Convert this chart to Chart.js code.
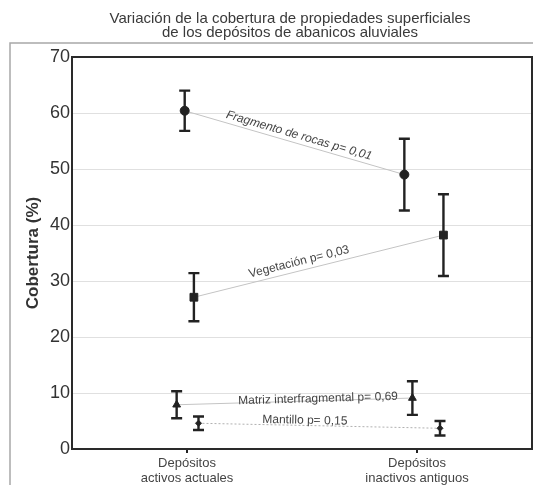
<!DOCTYPE html>
<html>
<head>
<meta charset="utf-8">
<script src="https://cdn.jsdelivr.net/npm/chart.js@4.4.0/dist/chart.umd.min.js"></script>
<style>
  html, body { margin: 0; padding: 0; background: #fff; }
  #wrap { width: 533px; height: 485px; position: relative; }
</style>
</head>
<body>
<div id="wrap"><canvas id="chart"></canvas></div>
<script>
const titleLines = ["Variación de la cobertura de propiedades superficiales", "de los depósitos de abanicos aluviales"];
const categories = [["Depósitos", "activos actuales"], ["Depósitos", "inactivos antiguos"]];
const seriesNames = ["Fragmento de rocas p= 0,01", "Vegetación p= 0,03", "Matriz interfragmental p= 0,69", "Mantillo p= 0,15"];
const fragmento = [60.4, 49.0];
const fragmentoErr = [3.6, 6.4];
const vegetacion = [27.1, 38.2];
const vegetacionErr = [4.3, 7.3];
const matriz = [7.9, 9.1];
const matrizErr = [2.4, 3.0];
const mantillo = [4.6, 3.7];
const mantilloErr = [1.2, 1.3];
const yTicks = [0, 10, 20, 30, 40, 50, 60, 70];

// where the categories sit on the x axis, and how far each series is nudged sideways
const catX = [1, 3];
const nudges = [[-0.02, -0.11], [0.06, 0.23], [-0.09, -0.04], [0.1, 0.2]];
const FONT = "'Liberation Sans', Arial, sans-serif";

function points(vals, errs, nudge) {
  return vals.map((v, i) => ({ x: catX[i] + nudge[i], y: v, err: errs[i] }));
}

function series(i, vals, errs, style) {
  return Object.assign({
    label: seriesNames[i],
    data: points(vals, errs, nudges[i]),
    showLine: true,
    borderColor: "#c4c4c4",
    borderWidth: 1,
    pointBackgroundColor: "#222",
    pointBorderColor: "#222",
    pointBorderWidth: 1,
  }, style);
}

const datasets = [
  series(0, fragmento, fragmentoErr, { pointStyle: "circle", pointRadius: 4.5, lbl: { t: 0.51, off: 8, italic: true } }),
  series(1, vegetacion, vegetacionErr, { pointStyle: "rect", pointRadius: 5.5, lbl: { t: 0.43, off: 9 } }),
  series(2, matriz, matrizErr, { pointStyle: "triangle", pointRadius: 4.5, lbl: { t: 0.6, off: 2 } }),
  series(3, mantillo, mantilloErr, { pointStyle: "rectRot", pointRadius: 3, borderDash: [2, 2], borderColor: "#b0b0b0", lbl: { t: 0.44, off: 5 } }),
];

const decor = {
  id: "decor",
  beforeDraw(chart) {
    const ctx = chart.ctx;
    ctx.save();
    ctx.strokeStyle = "#a8a8a8";
    ctx.lineWidth = 1.5;
    ctx.beginPath();
    ctx.moveTo(10, 490);
    ctx.lineTo(10, 43);
    ctx.lineTo(540, 43);
    ctx.stroke();
    ctx.restore();
  },
  afterDatasetsDraw(chart) {
    const ctx = chart.ctx;
    const ys = chart.scales.y;
    ctx.save();
    // error bars
    ctx.strokeStyle = "#222";
    ctx.lineWidth = 2.4;
    chart.data.datasets.forEach((ds, di) => {
      const meta = chart.getDatasetMeta(di);
      meta.data.forEach((pt, j) => {
        const raw = ds.data[j];
        const top = ys.getPixelForValue(raw.y + raw.err);
        const bot = ys.getPixelForValue(raw.y - raw.err);
        ctx.beginPath();
        ctx.moveTo(pt.x, top); ctx.lineTo(pt.x, bot);
        ctx.moveTo(pt.x - 5.5, top); ctx.lineTo(pt.x + 5.5, top);
        ctx.moveTo(pt.x - 5.5, bot); ctx.lineTo(pt.x + 5.5, bot);
        ctx.stroke();
      });
    });
    // labels along the connecting lines
    ctx.fillStyle = "#444";
    ctx.textAlign = "center";
    ctx.textBaseline = "middle";
    chart.data.datasets.forEach((ds, di) => {
      const meta = chart.getDatasetMeta(di);
      const a = meta.data[0], b = meta.data[1];
      const ang = Math.atan2(b.y - a.y, b.x - a.x);
      const px = a.x + (b.x - a.x) * ds.lbl.t + Math.sin(ang) * ds.lbl.off;
      const py = a.y + (b.y - a.y) * ds.lbl.t - Math.cos(ang) * ds.lbl.off;
      ctx.save();
      ctx.translate(px, py);
      ctx.rotate(ang);
      ctx.font = (ds.lbl.italic ? "italic " : "") + "12px " + FONT;
      ctx.fillText(ds.label, 0, 0);
      ctx.restore();
    });
    ctx.restore();
  },
  afterDraw(chart) {
    const ctx = chart.ctx;
    const ca = chart.chartArea;
    ctx.save();
    ctx.strokeStyle = "#2a2a2a";
    ctx.lineWidth = 2;
    ctx.strokeRect(ca.left, ca.top, ca.right - ca.left, ca.bottom - ca.top);
    ctx.fillStyle = "#3a3a3a";
    ctx.font = "15px " + FONT;
    ctx.textAlign = "center";
    ctx.textBaseline = "alphabetic";
    ctx.fillText(titleLines[0], 290, 23);
    ctx.fillText(titleLines[1], 290, 37);
    ctx.restore();
  }
};

new Chart(document.getElementById("chart"), {
  type: "scatter",
  data: { datasets: datasets },
  options: {
    responsive: true,
    maintainAspectRatio: false,
    animation: false,
    layout: { autoPadding: false, padding: { top: 57, right: 1, left: 0, bottom: 0 } },
    plugins: {
      legend: { display: false },
      tooltip: { enabled: false },
    },
    scales: {
      x: {
        type: "linear",
        min: 0,
        max: 4,
        afterBuildTicks: (s) => { s.ticks = catX.map((v) => ({ value: v })); },
        afterFit: (s) => { s.height = 36; s.paddingLeft = 0; s.paddingRight = 0; },
        ticks: {
          callback: (v, i) => categories[i],
          font: { family: FONT, size: 13, lineHeight: 1.15 },
          color: "#444",
          padding: 3,
          maxRotation: 0,
        },
        grid: { drawOnChartArea: false, tickLength: 4, color: "#222", lineWidth: 2 },
        border: { display: false },
      },
      y: {
        min: 0,
        max: 70,
        afterBuildTicks: (s) => { s.ticks = yTicks.map((v) => ({ value: v })); },
        afterFit: (s) => { s.width = 72; },
        ticks: {
          font: { family: FONT, size: 18 },
          color: "#333",
          padding: 2,
        },
        grid: { color: "#e0e0e0", drawTicks: false },
        border: { display: false },
        title: {
          display: true,
          text: "Cobertura (%)",
          font: { family: FONT, size: 17, weight: "bold" },
          color: "#333",
          padding: { top: 23, bottom: 0 },
        },
      },
    },
  },
  plugins: [decor],
});
</script>
</body>
</html>
